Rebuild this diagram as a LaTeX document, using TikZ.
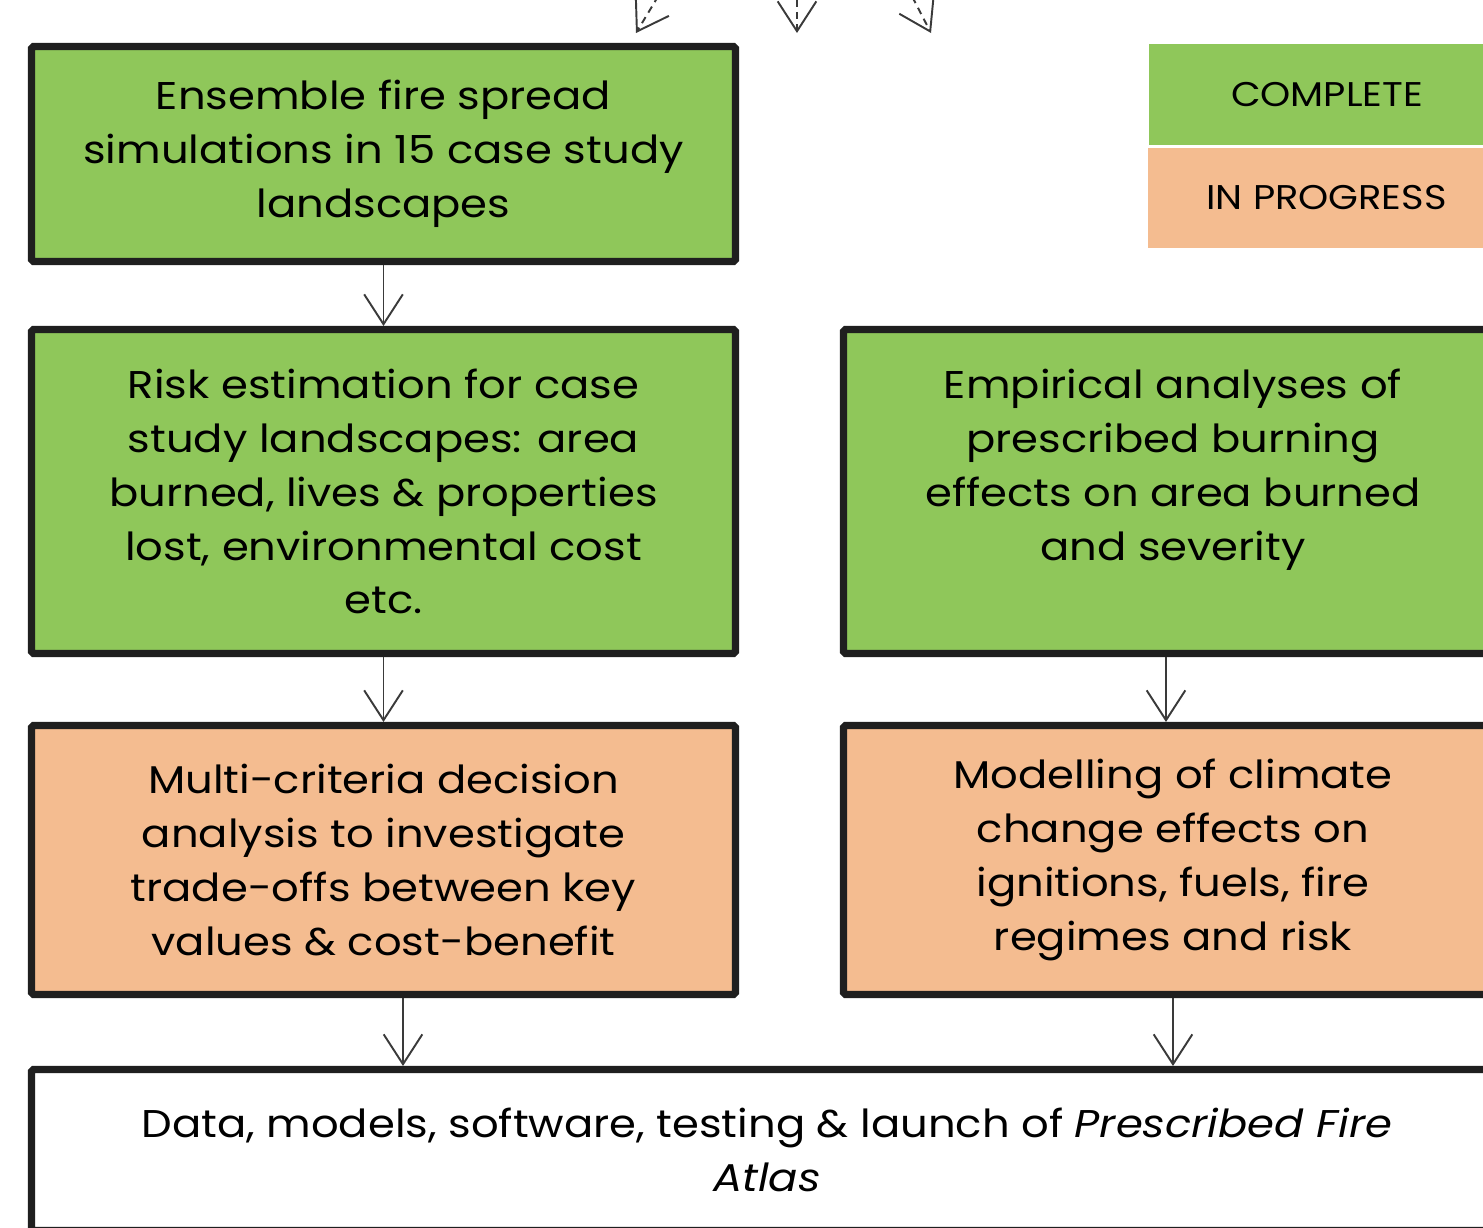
\documentclass[tikz,border=0pt]{standalone}
\usepackage{fontspec}
\setmainfont[FakeStretch=1.12]{Poppins}
\usepackage{xcolor}
\usepackage{tikz}
\usetikzlibrary{arrows.meta}

\definecolor{donegreen}{HTML}{8FC75A}
\definecolor{workorange}{HTML}{F4BC90}
\definecolor{linkgray}{HTML}{3A3A3A}

\begin{document}
\begin{tikzpicture}[
    stagebox/.style={draw=black!88, line width=4pt, rounded corners=1pt, align=center,
        font=\fontsize{22}{30.7}\selectfont, inner sep=0pt},
    keybox/.style={inner sep=0pt, font=\fontsize{19.5}{24}\selectfont},
    link/.style={linkgray, line width=1.1pt, -{Straight Barb[length=17pt,width=22pt,line width=1.1pt]}},
    feed/.style={link, dash pattern=on 4pt off 3pt}
  ]
    \useasboundingbox (0,0) rectangle (29.66,-24.56);
    \clip (0,0) rectangle (29.66,-24.56);

    % left column
    \node[stagebox, fill=donegreen, minimum width=14.08cm, minimum height=4.3cm] (spread) at (7.67,-3.08)
        {Ensemble fire spread\\simulations in 15 case study\\landscapes};
    \node[stagebox, fill=donegreen, minimum width=14.08cm, minimum height=6.48cm] (risk) at (7.67,-9.83)
        {Risk estimation for case\\study landscapes: area\\burned, lives \& properties\\lost, environmental cost\\etc.};
    \node[stagebox, fill=workorange, minimum width=14.08cm, minimum height=5.38cm] (mcda) at (7.67,-17.2)
        {Multi-criteria decision\\analysis to investigate\\trade-offs between key\\values \& cost-benefit};

    % right column
    \node[stagebox, fill=donegreen, minimum width=13.18cm, minimum height=6.48cm] (empirical) at (23.46,-9.83)
        {Empirical analyses of\\prescribed burning\\effects on area burned\\and severity\\\mbox{}};
    \node[stagebox, fill=workorange, minimum width=13.18cm, minimum height=5.38cm] (climate) at (23.46,-17.2)
        {Modelling of climate\\change effects on\\ignitions, fuels, fire\\regimes and risk};

    % output
    \node[stagebox, fill=white, minimum width=29.42cm, minimum height=3.22cm] (atlas) at (15.34,-23.0)
        {Data, models, software, testing \& launch of \textit{Prescribed Fire}\\\textit{Atlas}};

    % legend
    \node[keybox, fill=donegreen, minimum width=7.12cm, minimum height=2.02cm] (kdone) at (26.54,-1.89) {COMPLETE};
    \node[keybox, fill=workorange, minimum width=7.14cm, minimum height=2.0cm] (kwork) at (26.53,-3.96) {IN PROGRESS};

    % links
    \draw[link] (spread.south) -- (risk.north);
    \draw[link] (risk.south) -- (mcda.north);
    \draw[link] (empirical.south -| 23.32,0) -- (climate.north -| 23.32,0);
    \draw[link] (mcda.south -| 8.06,0) -- (atlas.north -| 8.06,0);
    \draw[link] (climate.south -| 23.46,0) -- (atlas.north -| 23.46,0);

    % inputs from above
    \coordinate (in1) at (13.42,0.5);
    \coordinate (in2) at (15.94,0.5);
    \coordinate (in3) at (18.02,0.5);
    \coordinate (to1) at (12.72,-0.66);
    \coordinate (to2) at (15.94,-0.66);
    \coordinate (to3) at (18.62,-0.66);
    \draw[feed] (in1) -- (to1);
    \draw[feed] (in2) -- (to2);
    \draw[feed] (in3) -- (to3);
\end{tikzpicture}
\end{document}
